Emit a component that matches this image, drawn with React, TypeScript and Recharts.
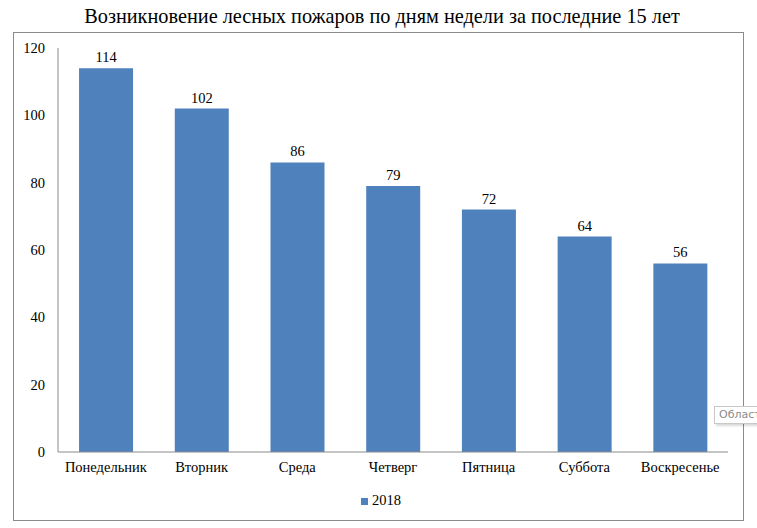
import React from 'react';
import { BarChart, Bar, XAxis, YAxis, Legend, LabelList } from 'recharts';

const days = ['Понедельник', 'Вторник', 'Среда', 'Четверг', 'Пятница', 'Суббота', 'Воскресенье'];
const fires2018 = [114, 102, 86, 79, 72, 64, 56];
const yTicks = [0, 20, 40, 60, 80, 100, 120];

const data = days.map((day, i) => ({ day, v2018: fires2018[i] }));

const serif = '"Liberation Serif", "Times New Roman", serif';
const textStyle = { fontFamily: serif, fontSize: 14.5, fill: '#000' };

const App: React.FC = () => {
  return (
    <div style={{ position: 'fixed', left: 0, top: 0, width: 757, height: 528, overflow: 'hidden', background: '#fff' }}>
      {/* chart area frame */}
      <div style={{ position: 'absolute', left: 13, top: 32, width: 731, height: 489, border: '1px solid #8a8a8a', boxSizing: 'border-box' }} />
      <div style={{ position: 'absolute', left: 0, top: 5, width: 764, textAlign: 'center', fontFamily: serif, fontSize: 20.3, color: '#000' }}>
        Возникновение лесных пожаров по дням недели за последние 15 лет
      </div>
      <div style={{ position: 'absolute', left: 0, top: 0 }}>
        <BarChart
          width={757}
          height={528}
          data={data}
          margin={{ top: 48, right: 29, left: 0, bottom: 29 }}
          barCategoryGap="22%"
        >
          <XAxis
            dataKey="day"
            tickLine={false}
            tickSize={0}
            tickMargin={10}
            axisLine={{ stroke: '#8a8a8a' }}
            tick={textStyle}
            interval={0}
          />
          <YAxis
            width={58}
            domain={[0, 120]}
            ticks={yTicks}
            tickLine={false}
            tickSize={0}
            tickMargin={13}
            axisLine={{ stroke: '#8a8a8a' }}
            tick={textStyle}
          />
          <Legend
            verticalAlign="bottom"
            align="center"
            iconType="square"
            iconSize={7}
            wrapperStyle={{ fontFamily: serif, fontSize: 14.5, top: 492, left: 4, width: 764 }}
            formatter={(value) => <span style={{ color: '#000' }}>{value}</span>}
          />
          <Bar dataKey="v2018" name="2018" fill="#4f81bd" isAnimationActive={false}>
            <LabelList dataKey="v2018" position="top" offset={6} style={textStyle} />
          </Bar>
        </BarChart>
      </div>
      {/* hover tip left on the plot area */}
      <div
        style={{
          position: 'absolute',
          left: 714,
          top: 406,
          height: 16,
          padding: '0 4px',
          border: '1px solid #c8c8c8',
          background: '#fff',
          boxShadow: '2px 2px 2px rgba(0,0,0,0.15)',
          fontFamily: '"DejaVu Sans", sans-serif',
          fontSize: 11,
          lineHeight: '16px',
          color: '#8a8a8a',
          whiteSpace: 'nowrap',
        }}
      >
        Область построения
      </div>
    </div>
  );
};

export default App;
